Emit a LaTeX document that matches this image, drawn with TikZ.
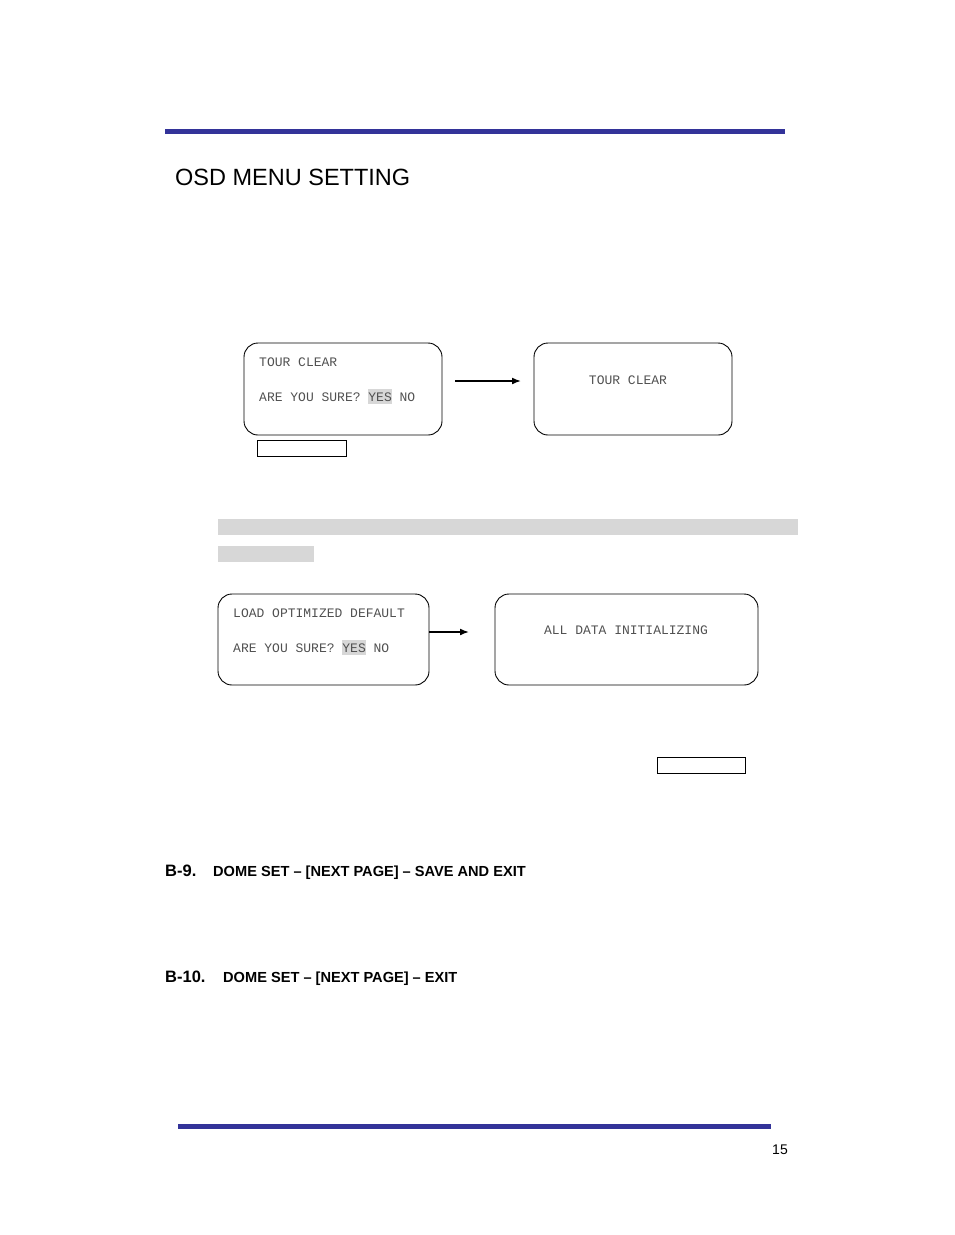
\documentclass[tikz,border=0pt]{standalone}
\usepackage{fontspec}
\usetikzlibrary{arrows.meta}
\setmainfont{Liberation Sans}
\setmonofont{Liberation Mono}
\definecolor{barblue}{RGB}{51,51,153}
\definecolor{osdtext}{RGB}{80,80,80}
\definecolor{hilite}{RGB}{215,215,215}
\tikzset{
  osdbox/.style={draw, rounded corners=14pt, line width=0.9pt},
  osdline/.style={font=\ttfamily\fontsize{13}{15}\selectfont, text=osdtext, inner sep=0pt},
  tagbox/.style={draw, line width=0.7pt},
  osdarrow/.style={-{Latex[length=9pt,width=7pt]}, line width=1.6pt},
}
\newcommand{\yes}{\colorbox{hilite}{\hspace{-3pt}YES\hspace{-3pt}}}
\begin{document}
\begin{tikzpicture}[x=1pt, y=-1pt]
        \useasboundingbox (0,0) rectangle (954,1235);

        % Header and footer bars
        \fill[barblue] (165,129) rectangle (785,134);
        \fill[barblue] (178,1124) rectangle (771,1129);
        \node[anchor=base west, font=\fontsize{23.5}{26}\selectfont, inner sep=0pt] (title) at (175,185) {OSD MENU SETTING};
        \node[anchor=base east, font=\fontsize{14}{16}\selectfont, inner sep=0pt] (page) at (788,1154) {15};

        % Tour clear
        \draw[osdbox] (244,343) rectangle (442,435);
        \node[osdline, anchor=base west] at (259,366) {TOUR CLEAR};
        \node[osdline, anchor=base west] at (259,401) {ARE YOU SURE? \yes{} NO};
        \draw[tagbox] (257,440) rectangle (346,456);
        \draw[osdbox] (534,343) rectangle (732,435);
        \node[osdline, anchor=base] at (628,384) {TOUR CLEAR};
        \coordinate (a1s) at (455,381);
        \coordinate (a1e) at (521,381);
        \draw[osdarrow] (a1s) -- (a1e);

        % Gray bars
        \fill[hilite] (218,519) rectangle (798,535);
        \fill[hilite] (218,546) rectangle (314,562);

        % Load default
        \draw[osdbox] (218,594) rectangle (429,685);
        \node[osdline, anchor=base west] at (233,617) {LOAD OPTIMIZED DEFAULT};
        \node[osdline, anchor=base west] at (233,652) {ARE YOU SURE? \yes{} NO};
        \draw[osdbox] (495,594) rectangle (758,685);
        \node[osdline, anchor=base] at (626,634) {ALL DATA INITIALIZING};
        \coordinate (a2s) at (429,632);
        \coordinate (a2e) at (469,632);
        \draw[osdarrow] (a2s) -- (a2e);
        \draw[tagbox] (657,757) rectangle (745,773);

        % Section headings
        \node[anchor=base west, font=\bfseries\fontsize{16.5}{18}\selectfont, inner sep=0pt] (b9) at (165,876) {B-9.};
        \node[anchor=base west, font=\bfseries\fontsize{14.6}{16}\selectfont, inner sep=0pt] at (213,876) {DOME SET – [NEXT PAGE] – SAVE AND EXIT};
        \node[anchor=base west, font=\bfseries\fontsize{16.5}{18}\selectfont, inner sep=0pt] (b10) at (165,982) {B-10.};
        \node[anchor=base west, font=\bfseries\fontsize{14.6}{16}\selectfont, inner sep=0pt] at (223,982) {DOME SET – [NEXT PAGE] – EXIT};
\end{tikzpicture}
\end{document}
